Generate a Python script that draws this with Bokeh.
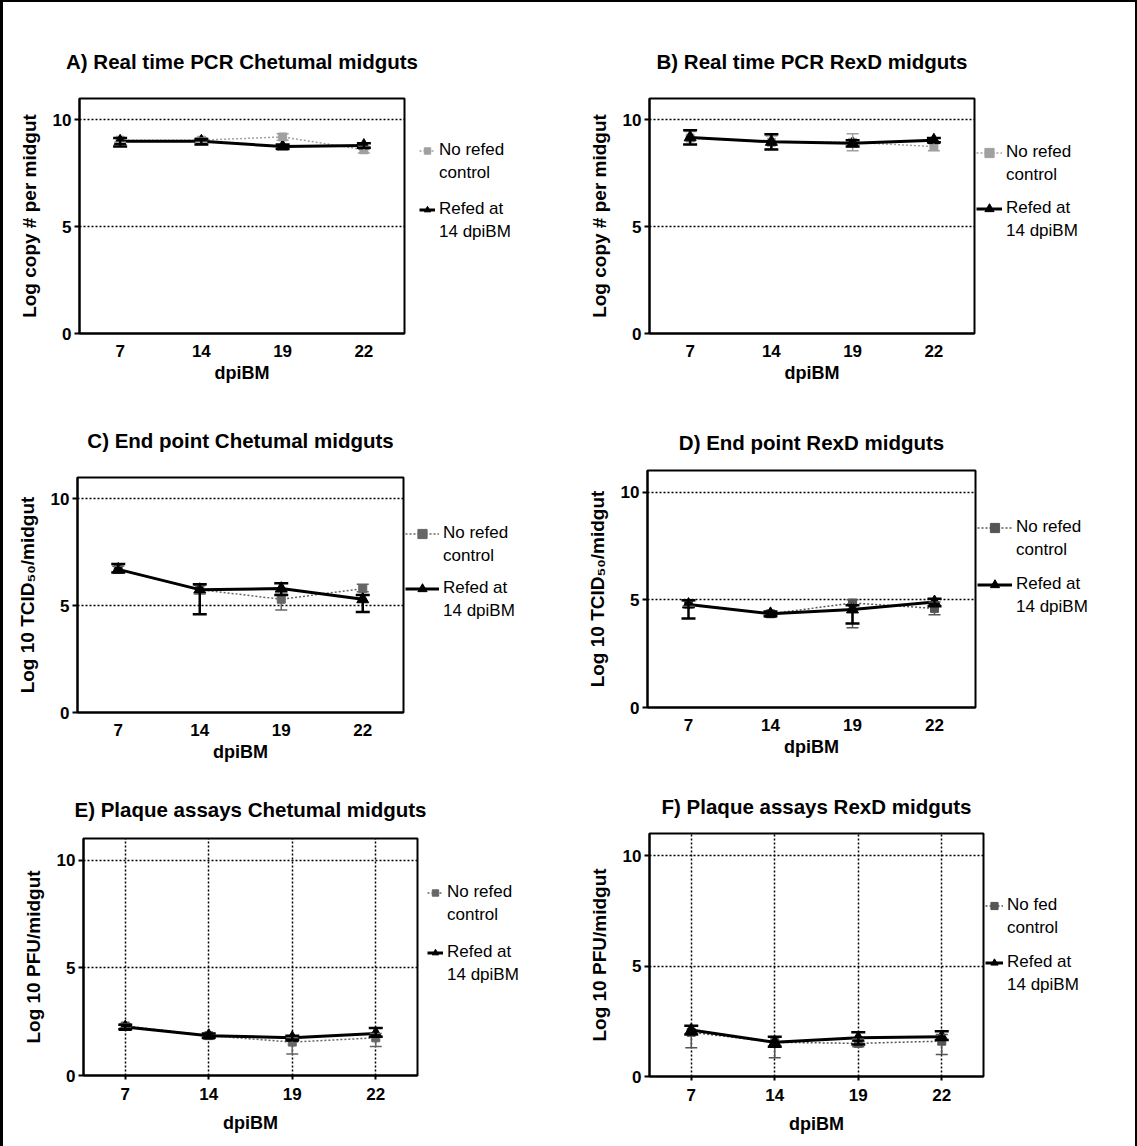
from bokeh.plotting import figure
from bokeh.layouts import column, row
from bokeh.models import (ColumnDataSource, Whisker, TeeHead, Legend, LegendItem,
                          FixedTicker, Range1d, FactorRange)
from bokeh.embed import file_html
from bokeh.resources import INLINE

FONT = "Liberation Sans"

days = ["7", "14", "19", "22"]

# A) Real time PCR Chetumal midguts
a_ctrl = [9.05, 9.05, 9.2, 8.6]
a_ctrl_lo = [0.1, 0.1, 0.15, 0.15]
a_ctrl_hi = [0.1, 0.1, 0.15, 0.15]
a_refed = [9.0, 9.0, 8.75, 8.8]
a_refed_lo = [0.25, 0.15, 0.1, 0.1]
a_refed_hi = [0.15, 0.1, 0.1, 0.1]

# B) Real time PCR RexD midguts
b_ctrl = [9.15, 8.95, 8.95, 8.75]
b_ctrl_lo = [0.3, 0.3, 0.4, 0.2]
b_ctrl_hi = [0.3, 0.3, 0.4, 0.2]
b_refed = [9.18, 8.97, 8.9, 9.05]
b_refed_lo = [0.33, 0.36, 0.15, 0.1]
b_refed_hi = [0.33, 0.36, 0.15, 0.1]

# C) End point Chetumal midguts
c_ctrl = [6.7, 5.75, 5.3, 5.8]
c_ctrl_lo = [0.15, 0.2, 0.5, 0.15]
c_ctrl_hi = [0.15, 0.2, 0.3, 0.2]
c_refed = [6.7, 5.75, 5.8, 5.3]
c_refed_lo = [0.15, 1.15, 0.3, 0.6]
c_refed_hi = [0.25, 0.25, 0.25, 0.2]

# D) End point RexD midguts
d_ctrl = [4.8, 4.35, 4.85, 4.6]
d_ctrl_lo = [0.1, 0.1, 1.15, 0.3]
d_ctrl_hi = [0.15, 0.1, 0.15, 0.3]
d_refed = [4.78, 4.35, 4.55, 4.9]
d_refed_lo = [0.65, 0.1, 0.65, 0.2]
d_refed_hi = [0.2, 0.1, 0.2, 0.15]

# E) Plaque assays Chetumal midguts
e_ctrl = [2.3, 1.85, 1.55, 1.75]
e_ctrl_lo = [0.1, 0.1, 0.55, 0.4]
e_ctrl_hi = [0.1, 0.1, 0.2, 0.2]
e_refed = [2.25, 1.85, 1.75, 1.95]
e_refed_lo = [0.1, 0.1, 0.1, 0.15]
e_refed_hi = [0.1, 0.1, 0.1, 0.25]

# F) Plaque assays RexD midguts
f_ctrl = [2.0, 1.55, 1.5, 1.6]
f_ctrl_lo = [0.7, 0.7, 0.15, 0.6]
f_ctrl_hi = [0.3, 0.25, 0.2, 0.3]
f_refed = [2.1, 1.55, 1.75, 1.8]
f_refed_lo = [0.2, 0.2, 0.3, 0.15]
f_refed_hi = [0.2, 0.25, 0.25, 0.25]

y_ticks = [0, 5, 10]

PITCH = 23  # legend line pitch (px)


def whisker(p, mean, lo, hi, color, width, cap):
    src = ColumnDataSource(dict(
        x=days,
        lo=[m - e for m, e in zip(mean, lo)],
        hi=[m + e for m, e in zip(mean, hi)],
    ))
    w = Whisker(source=src, base="x", lower="lo", upper="hi", dimension="height",
                line_color=color, line_width=width, level="glyph",
                upper_head=TeeHead(size=cap, line_color=color, line_width=width),
                lower_head=TeeHead(size=cap, line_color=color, line_width=width))
    p.add_layout(w)


def styled_series(p, xs, ys, kind, color):
    if kind == "ctrl":
        ln = p.line(xs, ys, line_color=color, line_width=1.5, line_dash="2 2")
        mk = p.scatter(xs, ys, marker="square", size=8, fill_color=color,
                       line_color=color)
    else:
        ln = p.line(xs, ys, line_color="black", line_width=3)
        mk = p.scatter(xs, ys, marker="triangle", size=12, fill_color="black",
                       line_color="black")
    return ln, mk


def legend_block(lf, labels, renderers, blank, dy, g):
    items = [LegendItem(label=labels[0], renderers=renderers),
             LegendItem(label=labels[1], renderers=[blank])]
    top = dy - PITCH / 2           # offset below the top of the plot box
    y = g["fh"] - top - 2 * PITCH  # legend bottom, measured from box bottom
    lg = Legend(items=items, location=(0, y), border_line_color=None,
                background_fill_alpha=0, label_text_font=FONT,
                label_text_font_size="17px", label_text_color="black",
                glyph_width=g["gw"], glyph_height=PITCH, label_height=PITCH,
                label_standoff=4, spacing=0, padding=0, margin=0)
    lf.add_layout(lg, "center")


def panel(title, ylabel, ctrl, ctrl_lo, ctrl_hi, refed, refed_lo, refed_hi,
          ctrl_label, g, ctrl_color, vgrid, col_w):
    H = g["t"] + g["fh"] + g["b"]
    p = figure(x_range=FactorRange(factors=days), y_range=Range1d(0, 11),
               frame_width=g["fw"], frame_height=g["fh"],
               min_border_left=g["l"], min_border_right=g["r"],
               min_border_top=g["t"], min_border_bottom=g["b"],
               output_backend="svg", toolbar_location=None, title=title)
    p.title.align = "center"
    p.title.offset = g["to"]
    p.title.text_font = FONT
    p.title.text_font_size = "20.5px"
    p.title.text_font_style = "bold"
    p.title.text_color = "black"
    p.title.standoff = g["ts"]

    p.outline_line_color = "black"
    p.outline_line_width = 2
    p.outline_line_alpha = 1

    p.yaxis.ticker = FixedTicker(ticks=y_ticks)
    p.ygrid.ticker = FixedTicker(ticks=y_ticks)
    p.ygrid.grid_line_color = "black"
    p.ygrid.grid_line_dash = "2 2"
    p.ygrid.grid_line_width = 1.5
    if vgrid:
        p.xgrid.grid_line_color = "black"
        p.xgrid.grid_line_dash = "2 2"
        p.xgrid.grid_line_width = 1.5
    else:
        p.xgrid.grid_line_color = None

    for ax in (p.xaxis[0], p.yaxis[0]):
        ax.axis_line_width = 2
        ax.axis_line_color = "black"
        ax.major_tick_line_color = "black"
        ax.major_tick_line_width = 2
        ax.major_tick_in = 0
        ax.minor_tick_line_color = None
        ax.major_label_text_font = FONT
        ax.major_label_text_font_size = "17px"
        ax.major_label_text_font_style = "bold"
        ax.major_label_text_color = "black"
        ax.axis_label_text_font = FONT
        ax.axis_label_text_font_style = "bold"
        ax.axis_label_text_color = "black"
    p.yaxis.major_tick_out = 5
    p.yaxis.major_label_standoff = 3
    p.yaxis.axis_label = ylabel
    p.yaxis.axis_label_text_font_size = "19px"
    p.yaxis.axis_label_standoff = 10
    p.xaxis.major_tick_out = 4 if vgrid else 0
    p.xaxis.major_label_standoff = 11 if not vgrid else 8
    p.xaxis.axis_label = "dpiBM"
    p.xaxis.axis_label_text_font_size = "18px"
    p.xaxis.axis_label_standoff = g["xs"]

    # control series (grey, dotted) and refed series (black, thick)
    styled_series(p, days, ctrl, "ctrl", ctrl_color)
    whisker(p, ctrl, ctrl_lo, ctrl_hi, ctrl_color, 1.5, 12)
    styled_series(p, days, refed, "refed", "black")
    whisker(p, refed, refed_lo, refed_hi, "black", 2.5, 14)

    # legend area to the right of the plot box (same series styles; the
    # series themselves lie outside this area's view, only the key shows)
    lw = col_w - (g["l"] + g["fw"] + g["r"])
    lf = figure(width=lw, height=H, x_range=FactorRange(factors=days),
                y_range=Range1d(-20, -10),
                x_axis_type=None, y_axis_type=None, min_border=0,
                outline_line_color=None, output_backend="svg",
                toolbar_location=None)
    lf.xgrid.visible = False
    lf.ygrid.visible = False
    c_rend = list(styled_series(lf, days, ctrl, "ctrl", ctrl_color))
    r_rend = list(styled_series(lf, days, refed, "refed", "black"))
    blank = lf.line(days, ctrl, line_alpha=0)
    legend_block(lf, ctrl_label, c_rend, blank, g["dy1"], g)
    legend_block(lf, ["Refed at", "14 dpiBM"], r_rend, blank, g["dy2"], g)
    return row(p, lf)


LEFT_W = 567
RIGHT_W = 565

gA = dict(l=76, fw=325, r=15, t=96, fh=235, b=67, xs=3, ts=52, to=-8, gw=16, dy1=52, dy2=111)
gB = dict(l=79, fw=325, r=2, t=96, fh=235, b=67, xs=3, ts=52, to=0, gw=26, dy1=54, dy2=110)
gC = dict(l=74, fw=326, r=2, t=77, fh=235, b=60, xs=3, ts=52, to=0, gw=34, dy1=56, dy2=111)
gD = dict(l=77, fw=328, r=2, t=70, fh=237, b=65, xs=3, ts=34, to=0, gw=35, dy1=57, dy2=114)
gE = dict(l=80, fw=334, r=10, t=66, fh=237, b=71, xs=10, ts=36, to=-6, gw=16, dy1=54, dy2=114)
gF = dict(l=79, fw=334, r=2, t=61, fh=243, b=70, xs=10, ts=32, to=0, gw=18, dy1=72, dy2=129)

pA = panel("A) Real time PCR Chetumal midguts", "Log copy # per midgut",
           a_ctrl, a_ctrl_lo, a_ctrl_hi, a_refed, a_refed_lo, a_refed_hi,
           ["No refed", "control"], gA, "#a0a0a0", False, LEFT_W)
pB = panel("B) Real time PCR RexD midguts", "Log copy # per midgut",
           b_ctrl, b_ctrl_lo, b_ctrl_hi, b_refed, b_refed_lo, b_refed_hi,
           ["No refed", "control"], gB, "#a0a0a0", False, RIGHT_W)
pC = panel("C) End point Chetumal midguts", "Log 10 TCID\u2085\u2080/midgut",
           c_ctrl, c_ctrl_lo, c_ctrl_hi, c_refed, c_refed_lo, c_refed_hi,
           ["No refed", "control"], gC, "#666666", False, LEFT_W)
pD = panel("D) End point RexD midguts", "Log 10 TCID\u2085\u2080/midgut",
           d_ctrl, d_ctrl_lo, d_ctrl_hi, d_refed, d_refed_lo, d_refed_hi,
           ["No refed", "control"], gD, "#555555", False, RIGHT_W)
pE = panel("E) Plaque assays Chetumal midguts", "Log 10 PFU/midgut",
           e_ctrl, e_ctrl_lo, e_ctrl_hi, e_refed, e_refed_lo, e_refed_hi,
           ["No refed", "control"], gE, "#666666", True, LEFT_W)
pF = panel("F) Plaque assays RexD midguts", "Log 10 PFU/midgut",
           f_ctrl, f_ctrl_lo, f_ctrl_hi, f_refed, f_refed_lo, f_refed_hi,
           ["No fed", "control"], gF, "#555555", True, RIGHT_W)

layout = column(row(pA, pB), row(pC, pD), row(pE, pF),
                styles={"border-left": "3px solid black",
                        "border-top": "2px solid black",
                        "border-right": "2px solid black"})

open("out.html", "w").write(file_html(layout, INLINE))
